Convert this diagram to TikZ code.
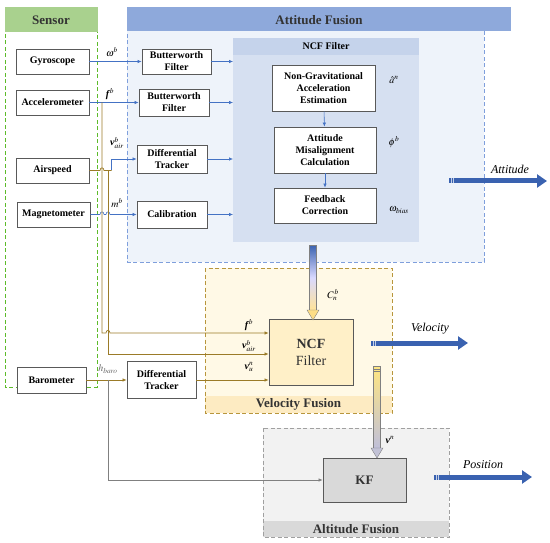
\documentclass[tikz,border=0pt]{standalone}
\usepackage{mathptmx}
\usepackage{fontspec}
\setmainfont{Liberation Serif}
\usetikzlibrary{arrows.meta}
\definecolor{sgreen}{HTML}{A9D18E}
\definecolor{sgreenb}{HTML}{5DBB2A}
\definecolor{ablue}{HTML}{8EA9DB}
\definecolor{abluefill}{HTML}{EEF3FA}
\definecolor{abluebd}{HTML}{7F9FDC}
\definecolor{ncffill}{HTML}{D6E0F1}
\definecolor{ncfhead}{HTML}{C5D3EB}
\definecolor{vfill}{HTML}{FFF9E6}
\definecolor{vhead}{HTML}{FDEBC2}
\definecolor{vbd}{HTML}{B8963C}
\definecolor{ncfv}{HTML}{FFF0C8}
\definecolor{gfill}{HTML}{F2F2F2}
\definecolor{ghead}{HTML}{D9D9D9}
\definecolor{gbd}{HTML}{A0A0A0}
\definecolor{lblue}{HTML}{4472C4}
\definecolor{bigblue}{HTML}{3A62B0}
\definecolor{brn}{HTML}{9B7B28}
\definecolor{bx}{HTML}{595959}
\tikzset{
  sbox/.style={draw=bx, line width=0.8pt, fill=white, align=center, inner sep=0pt,
    font=\bfseries\fontsize{10}{12}\selectfont},
  cont/.style={inner sep=0pt, anchor=north west},
  contline/.style={dash pattern=on 4pt off 2.5pt, line width=1pt},
  barrow/.style={draw=lblue, line width=0.6pt, -{Latex[length=4pt,width=3.5pt]}},
  bline/.style={draw=lblue, line width=0.6pt},
  brarrow/.style={draw=brn, line width=0.7pt, -{Latex[length=4pt,width=3.5pt]}},
  brline/.style={draw=brn, line width=0.7pt},
  garrow/.style={draw=gray, line width=0.6pt, -{Latex[length=4pt,width=3.5pt]}},
  bigarrow/.style={draw=bigblue, line width=5pt, -{Triangle[length=10pt,width=13pt]}},
  hdr/.style={font=\bfseries\fontsize{13}{15}\selectfont, text=black!80},
  lbl/.style={font=\fontsize{10}{12}\selectfont, inner sep=0pt},
  outlbl/.style={font=\itshape\fontsize{12}{14}\selectfont, inner sep=0pt},
}
\begin{document}
\begin{tikzpicture}[x=1pt,y=-1pt]
\useasboundingbox (0,0) rectangle (550,543);
% containers
\node[cont, minimum width=92pt, minimum height=379pt] (sensor) at (5,8) {};
\draw[contline, sgreenb] (5,8) rectangle (97,387);
\fill[sgreen] (4.5,7.5) rectangle (97.5,32);
\node[hdr] (sensorh) at (51,20) {Sensor};

\node[cont, fill=abluefill, minimum width=357pt, minimum height=254pt] (att) at (127,8) {};
\draw[contline, abluebd] (127,8) rectangle (484,262);
\fill[ablue] (126.5,7.5) rectangle (511,31);
\node[hdr] (atth) at (319,20) {Attitude Fusion};

\node[inner sep=0pt, anchor=north west, fill=ncffill, minimum width=186pt, minimum height=204pt] (ncfin) at (233,38) {};
\fill[ncfhead] (233,38) rectangle (419,55);
\node[font=\bfseries\fontsize{10}{12}\selectfont] (ncfinh) at (326,46.5) {NCF Filter};

\node[cont, fill=vfill, minimum width=187pt, minimum height=145pt] (vel) at (205,268) {};
\fill[vhead] (205,396) rectangle (392,413);
\draw[contline, vbd] (205,268) rectangle (392,413);
\node[hdr] (velh) at (298.5,404.5) {Velocity Fusion};

\node[cont, fill=gfill, minimum width=186pt, minimum height=109pt] (alt) at (263,428) {};
\fill[ghead] (263,521) rectangle (449,537);
\draw[contline, gbd] (263,428) rectangle (449,537);
\node[hdr] (alth) at (356,529) {Altitude Fusion};

% sensor boxes
\node[sbox, minimum width=73pt, minimum height=25pt] (gyro) at (52.5,61.5) {Gyroscope};
\node[sbox, minimum width=73pt, minimum height=25pt] (acc) at (52.5,102.5) {Accelerometer};
\node[sbox, minimum width=73pt, minimum height=25pt] (air) at (52.5,170.5) {Airspeed};
\node[sbox, minimum width=73pt, minimum height=25pt] (mag) at (53.5,214.5) {Magnetometer};
\node[sbox, minimum width=69pt, minimum height=26pt] (baro) at (51.5,380) {Barometer};

% processing boxes
\node[sbox, minimum width=69pt, minimum height=25pt] (bw1) at (176.5,61.5) {Butterworth\\Filter};
\node[sbox, minimum width=70pt, minimum height=27pt] (bw2) at (174,102.5) {Butterworth\\Filter};
\node[sbox, minimum width=70pt, minimum height=28pt] (dt) at (172,159) {Differential\\Tracker};
\node[sbox, minimum width=70pt, minimum height=27pt] (cal) at (172,214.5) {Calibration};
\node[sbox, minimum width=69pt, minimum height=37pt] (dt2) at (161.5,380) {Differential\\Tracker};

\node[sbox, minimum width=103pt, minimum height=46pt] (ng) at (323.5,88) {Non-Gravitational\\Acceleration\\Estimation};
\node[sbox, minimum width=102pt, minimum height=46pt] (am) at (325,150) {Attitude\\Misalignment\\Calculation};
\node[sbox, minimum width=102pt, minimum height=35pt] (fb) at (325,205.5) {Feedback\\Correction};

\node[draw=bx, line width=0.8pt, fill=ncfv, minimum width=84pt, minimum height=66pt, align=center, inner sep=0pt,
  font=\fontsize{14}{17}\selectfont, text=black!80] (ncfv) at (311,352) {\textbf{NCF}\\Filter};
\node[draw=bx, line width=0.8pt, fill=ghead, minimum width=83pt, minimum height=44pt, inner sep=0pt,
  font=\bfseries\fontsize{13}{15}\selectfont, text=black!80] (kf) at (364.5,480) {KF};

% blue connectors
\draw[barrow] (gyro) -- (bw1);
\draw[barrow] (acc) -- (bw2);
\draw[barrow] (bw1.east) -- (bw1.east -| ncfin.west);
\draw[barrow] (bw2.east) -- (bw2.east -| ncfin.west);
\draw[barrow] (dt.east) -- (dt.east -| ncfin.west);
\draw[barrow] (cal.east) -- (cal.east -| ncfin.west);
\draw[barrow] (ng) -- (am);
\draw[barrow] (am) -- (fb);
% magnetometer with bridges
\draw[bline] (mag.east) -- (100,214.5) .. controls (100,211) and (104,211) .. (104,214.5) -- (106,214.5)
  .. controls (106,211) and (110,211) .. (110,214.5) -- (128,214.5);
\draw[barrow] (128,214.5) -- (cal.west);
% airspeed
\coordinate (ac) at (111.5,170.5);
\draw[brline] (air.east) -- (100,170.5) .. controls (100,167) and (104,167) .. (104,170.5) -- (ac);
\draw[bline] (ac) -- (111.5,159);
\draw[barrow] (111.5,159) -- (dt.west);
% brown verticals to velocity NCF
\draw[brarrow] (102,102.5) -- (102,333) -- (106,333) .. controls (106,329.5) and (110,329.5) .. (110,333) -- (ncfv.west |- 0,333);
\draw[brarrow] (108,170.5) -- (108,354) -- (ncfv.west |- 0,354);
\draw[brarrow] (baro) -- (dt2);
\draw[brarrow] (dt2.east) -- (dt2.east -| ncfv.west);
\draw[garrow] (108,380) -- (108,480) -- (kf.west);

% labels
\node[lbl] (lw) at (112,52) {$\omega^{b}$};
\node[lbl] (lf) at (110,94) {$\mbox{\bfseries\itshape f}^{\,b}$};
\node[lbl] (lv) at (117,143) {$\mbox{\bfseries\itshape v}^{b}_{air}$};
\node[lbl] (lm) at (117,203) {$m^{b}$};
\node[lbl, text=black!60] (lh) at (108,369) {$h_{baro}$};
\node[lbl] (la) at (394,80) {$\hat{a}^{n}$};
\node[lbl] (lp) at (394,142) {$\phi^{b}$};
\node[lbl] (lo) at (399,210) {$\omega_{bias}$};
\node[lbl] (lc) at (333,295) {$C^{\,b}_{n}$};
\node[lbl] (lf2) at (249,325) {$\mbox{\bfseries\itshape f}^{\,b}$};
\node[lbl] (lv2) at (249,346) {$\mbox{\bfseries\itshape v}^{b}_{air}$};
\node[lbl] (lv3) at (249,367) {$\mbox{\bfseries\itshape v}^{n}_{u}$};
\node[lbl] (lvn) at (390,440) {$\mbox{\bfseries\itshape v}^{n}$};

% big output arrows
\coordinate (attend) at (547,181);
\coordinate (velend) at (468,343);
\coordinate (posend) at (532,477);
\draw[bigarrow] (449,181) -- (attend);
\draw[bigarrow] (371,343) -- (velend);
\draw[bigarrow] (434,477) -- (posend);
\foreach \x/\y in {451/181,453/181,373/343,375/343,436/477,438/477}
  \draw[white!70!bigblue, line width=0.5pt] (\x,\y-2.5) -- (\x,\y+2.5);
\node[outlbl] (lat) at (510,169) {Attitude};
\node[outlbl] (lve) at (430,329) {Velocity};
\node[outlbl] (lpo) at (483,465) {Position};

% gradient arrows
\shade[top color=bigblue, bottom color=yellow!45!orange!40, middle color=blue!15] (309.5,245) rectangle (316.5,310);
\draw[gray, line width=0.3pt] (309.5,245) rectangle (316.5,310);
\fill[yellow!50!orange!45, draw=gray, line width=0.4pt] (307,310) -- (319,310) -- (313,320) -- cycle;
\shade[top color=yellow!60!orange!50, bottom color=blue!25!gray!40] (373.5,366) rectangle (380.5,448);
\draw[gray, line width=0.3pt] (373.5,366) rectangle (380.5,448);
\draw[gray, line width=0.4pt] (373.5,369) -- (380.5,369) (373.5,371) -- (380.5,371);
\fill[blue!20!gray!40, draw=gray, line width=0.4pt] (371,448) -- (383,448) -- (377,458) -- cycle;
\end{tikzpicture}
\end{document}
